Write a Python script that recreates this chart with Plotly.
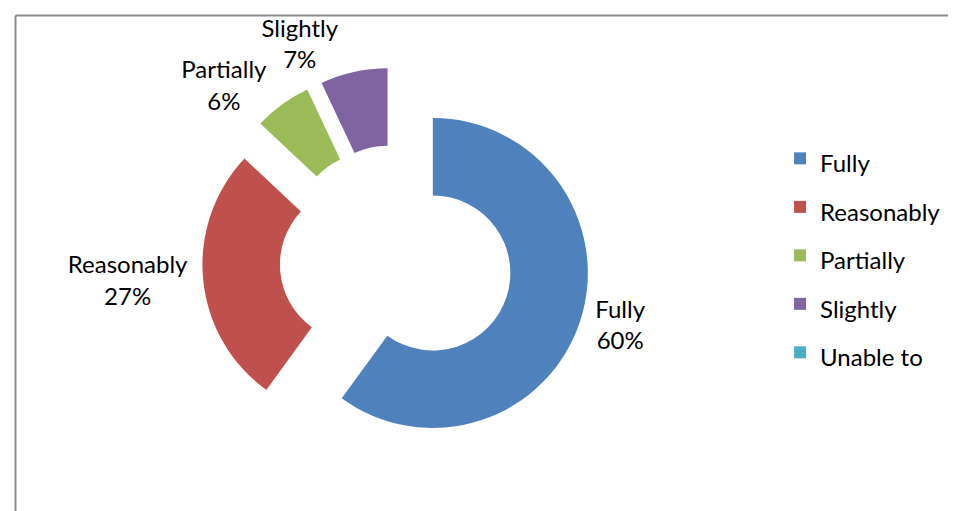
import plotly.graph_objects as go

# ---- data ----
categories = ["Fully", "Reasonably", "Partially", "Slightly", "Unable to"]
values = [60, 27, 6, 7, 0]
colors = ["#4F81BD", "#C0504D", "#9BBB59", "#8064A2", "#4BACC6"]

FONT = "Lato, Calibri, 'Liberation Sans', sans-serif"
TXT = 24
LEG_SPACING_FONT = 35  # sets legend row pitch

DOMAIN = dict(x=[0.2032, 0.6085], y=[0.1257, 0.8841])
PULL = [0.25] * len(values)

legend_labels = [f'<span style="font-size:{TXT}px">{c}</span>' for c in categories]

# labels of the first trace (all but the small top slice)
tmpl_a = ["%{text}<br>%{percent}" if (v > 0 and c != "Slightly") else "" for c, v in zip(categories, values)]
# label of the small top slice drawn by an overlay copy so it is placed on its own
tmpl_b = ["%{text}<br>%{percent}" if c == "Slightly" else "" for c in categories]

common = dict(
    values=values,
    text=categories,
    textposition="outside",
    textfont=dict(family=FONT, size=TXT, color="#000000"),
    hole=0.5,
    pull=PULL,
    sort=False,
    direction="clockwise",
    rotation=0,
    domain=DOMAIN,
    automargin=False,
)

fig = go.Figure()
fig.add_trace(go.Pie(
    labels=legend_labels,
    texttemplate=tmpl_a,
    marker=dict(colors=colors, line=dict(width=0)),
    hovertemplate="%{text}: %{value}<extra></extra>",
    **common,
))
fig.add_trace(go.Pie(
    labels=legend_labels,
    texttemplate=tmpl_b,
    marker=dict(colors=["rgba(0,0,0,0)"] * len(values), line=dict(width=0)),
    hoverinfo="skip",
    showlegend=False,
    **common,
))

fig.update_layout(
    width=956,
    height=511,
    margin=dict(l=0, r=0, t=0, b=0),
    paper_bgcolor="#FFFFFF",
    plot_bgcolor="#FFFFFF",
    font=dict(family=FONT, color="#000000"),
    showlegend=True,
    legend=dict(
        x=0.8076, y=0.763, xanchor="left", yanchor="top",
        font=dict(family=FONT, size=LEG_SPACING_FONT, color="#000000"),
        bgcolor="rgba(0,0,0,0)", borderwidth=0,
        traceorder="normal",
    ),
    shapes=[
        dict(type="line", xref="paper", yref="paper",
             x0=7.5 / 956, x1=1.0, y0=1 - 7.5 / 511, y1=1 - 7.5 / 511,
             line=dict(color="#8C8C8C", width=2)),
        dict(type="line", xref="paper", yref="paper",
             x0=7.5 / 956, x1=7.5 / 956, y0=0.0, y1=1 - 7.5 / 511,
             line=dict(color="#8C8C8C", width=2)),
    ],
)

fig.write_html("out.html")
